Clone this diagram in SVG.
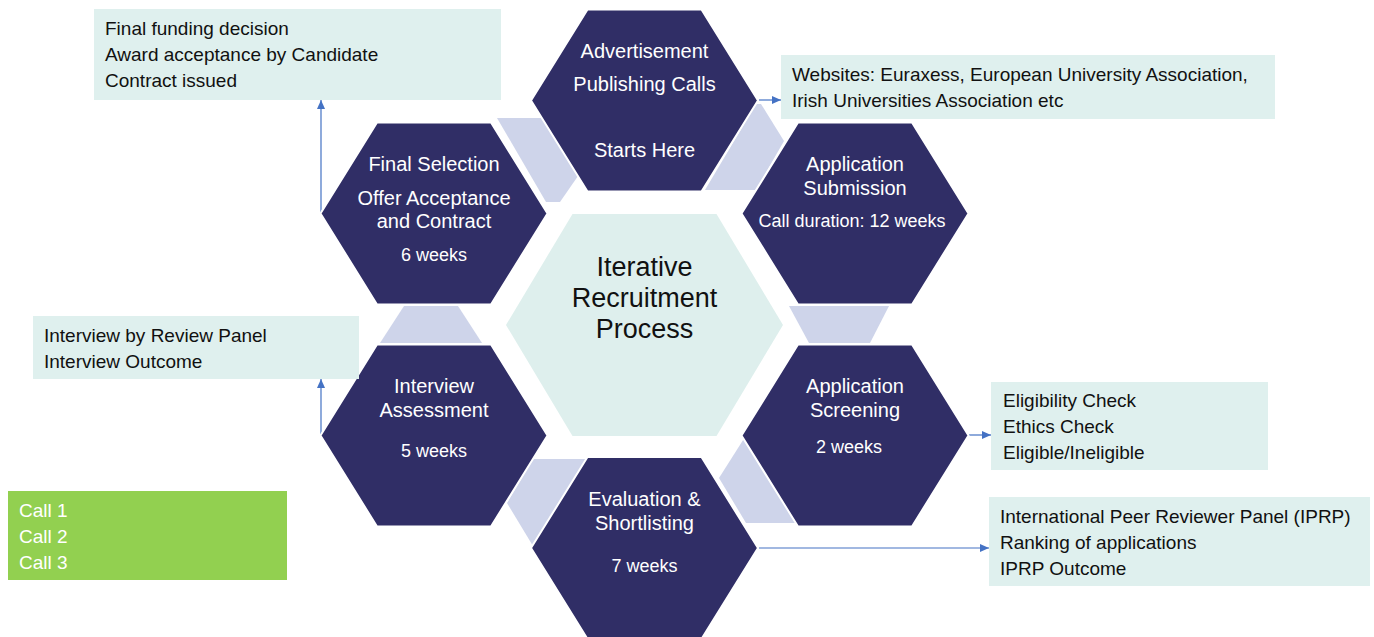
<svg xmlns="http://www.w3.org/2000/svg" xmlns:xlink="http://www.w3.org/1999/xlink" width="1374" height="637" viewBox="0 0 1374 637">
<style>
.hex{fill:#302E66;stroke:#ffffff;stroke-width:2}
.ctr{fill:#DEEFED}
.conn{fill:#CED4EA}
.box{fill:#DFF0EE}
.green{fill:#92D050}
.ht{font-family:"Liberation Sans",Arial,sans-serif;font-size:20px;fill:#ffffff;text-anchor:middle}
.hs{font-family:"Liberation Sans",Arial,sans-serif;font-size:18px;fill:#ffffff;text-anchor:middle}
.ct{font-family:"Liberation Sans",Arial,sans-serif;font-size:27px;fill:#111111;text-anchor:middle}
.bt{font-family:"Liberation Sans",Arial,sans-serif;font-size:19px;fill:#111111}
.gt{font-family:"Liberation Sans",Arial,sans-serif;font-size:19px;fill:#ffffff}
.arr{stroke:#4472C4;stroke-width:1.2;fill:none;marker-end:url(#ah)}
</style>
<defs>
<marker id="ah" markerWidth="9" markerHeight="8" refX="9" refY="4" orient="auto" markerUnits="userSpaceOnUse">
<path d="M0,0 L9,4 L0,8 z" fill="#4472C4"/>
</marker>
<polygon id="hx" points="-57,-91 57,-91 113.5,0 57,91 -57,91 -113.5,0"/>
</defs>
<rect width="1374" height="637" fill="#ffffff"/>

<g id="connectors">
<polygon class="conn" points="497,118 543,118 578,176 560,202 546,202"/>
<polygon class="conn" points="756,104 761,104 784,141 756,190 705,190"/>
<polygon class="conn" points="789,306 889,306 870,343 809,343"/>
<polygon class="conn" points="745,437 770,437 800,523 746,523 719,478"/>
<polygon class="conn" points="533,459 590,459 533,546 507,503"/>
<polygon class="conn" points="404,306 458,306 482,343 380,343"/>
<line class="arr" x1="321" y1="213" x2="321" y2="100"/>
<line class="arr" x1="321" y1="435" x2="321" y2="379"/>
<line class="arr" x1="759" y1="100" x2="781" y2="100"/>
<line class="arr" x1="969" y1="435" x2="991" y2="435"/>
<line class="arr" x1="759" y1="548" x2="989" y2="548"/>
</g>

<g id="center">
<polygon class="ctr" points="572.5,214 716.5,214 783,325 716.5,436 572.5,436 506,325"/>
<text class="ct" x="644.5" y="276">Iterative</text>
<text class="ct" x="644.5" y="307">Recruitment</text>
<text class="ct" x="644.5" y="338">Process</text>
</g>

<g id="advertisement">
<use xlink:href="#hx" class="hex" x="644.5" y="100.5"/>
<text class="ht" x="644.5" y="58">Advertisement</text>
<text class="ht" x="644.5" y="91">Publishing Calls</text>
<text class="ht" x="644.5" y="157">Starts Here</text>
</g>

<g id="final-selection">
<use xlink:href="#hx" class="hex" x="434" y="213.5"/>
<text class="ht" x="434" y="171">Final Selection</text>
<text class="ht" x="434" y="205">Offer Acceptance</text>
<text class="ht" x="434" y="228">and Contract</text>
<text class="hs" x="434" y="261">6 weeks</text>
</g>

<g id="application-submission">
<use xlink:href="#hx" class="hex" x="855" y="213.5"/>
<text class="ht" x="855" y="171">Application</text>
<text class="ht" x="855" y="195">Submission</text>
<text class="hs" x="852" y="227">Call duration: 12 weeks</text>
</g>

<g id="interview-assessment">
<use xlink:href="#hx" class="hex" x="434" y="435.5"/>
<text class="ht" x="434" y="393">Interview</text>
<text class="ht" x="434" y="417">Assessment</text>
<text class="hs" x="434" y="457">5 weeks</text>
</g>

<g id="application-screening">
<use xlink:href="#hx" class="hex" x="855" y="435.5"/>
<text class="ht" x="855" y="393">Application</text>
<text class="ht" x="855" y="417">Screening</text>
<text class="hs" x="849" y="453">2 weeks</text>
</g>

<g id="evaluation-shortlisting">
<use xlink:href="#hx" class="hex" x="644.5" y="548"/>
<text class="ht" x="644.5" y="506">Evaluation &amp;</text>
<text class="ht" x="644.5" y="530">Shortlisting</text>
<text class="hs" x="644.5" y="572">7 weeks</text>
</g>

<g id="box-final-funding">
<rect class="box" x="94" y="9" width="407" height="91"/>
<text class="bt" x="105" y="35">Final funding decision</text>
<text class="bt" x="105" y="61">Award acceptance by Candidate</text>
<text class="bt" x="105" y="87">Contract issued</text>
</g>

<g id="box-websites">
<rect class="box" x="781" y="55" width="494" height="64"/>
<text class="bt" x="792" y="81">Websites: Euraxess, European University Association,</text>
<text class="bt" x="792" y="107">Irish Universities Association etc</text>
</g>

<g id="box-interview">
<rect class="box" x="33" y="316" width="326" height="63"/>
<text class="bt" x="44" y="342">Interview by Review Panel</text>
<text class="bt" x="44" y="368">Interview Outcome</text>
</g>

<g id="box-eligibility">
<rect class="box" x="991" y="382" width="277" height="88"/>
<text class="bt" x="1003" y="407">Eligibility Check</text>
<text class="bt" x="1003" y="433">Ethics Check</text>
<text class="bt" x="1003" y="459">Eligible/Ineligible</text>
</g>

<g id="box-iprp">
<rect class="box" x="989" y="497" width="381" height="89"/>
<text class="bt" x="1000" y="523">International Peer Reviewer Panel (IPRP)</text>
<text class="bt" x="1000" y="549">Ranking of applications</text>
<text class="bt" x="1000" y="575">IPRP Outcome</text>
</g>

<g id="box-calls">
<rect class="green" x="8" y="491" width="279" height="89"/>
<text class="gt" x="19" y="517">Call 1</text>
<text class="gt" x="19" y="543">Call 2</text>
<text class="gt" x="19" y="569">Call 3</text>
</g>
</svg>
